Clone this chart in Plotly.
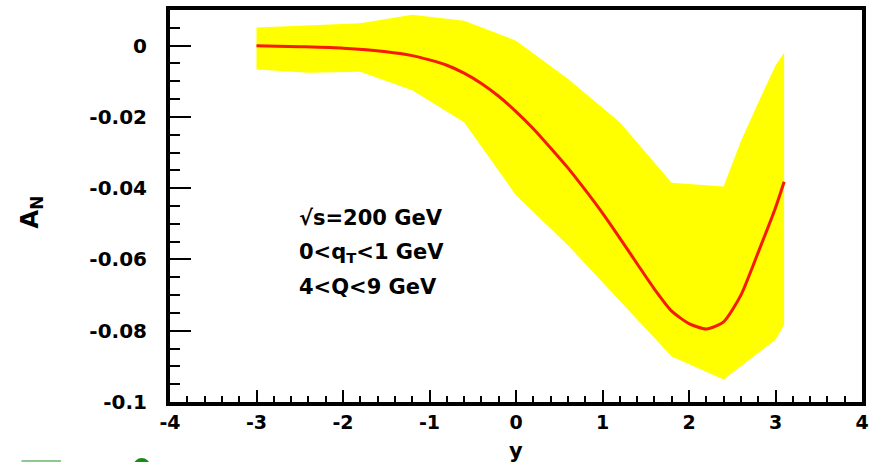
import plotly.graph_objects as go

# ---- data ----
curve_x = [-3.0, -2.5, -2.0, -1.5, -1.2, -1.0, -0.8, -0.6, -0.4, -0.2, 0.0, 0.2, 0.4, 0.6,
           0.8, 1.0, 1.2, 1.4, 1.6, 1.8, 2.0, 2.2, 2.4, 2.6, 2.8, 3.0, 3.1]
curve_y = [0.0, -0.0003, -0.0007, -0.0017, -0.0028, -0.0040, -0.0055, -0.0077, -0.0106,
           -0.0142, -0.0185, -0.0233, -0.0287, -0.0343, -0.0405, -0.0470, -0.0540, -0.0612,
           -0.0683, -0.0745, -0.0780, -0.0795, -0.0775, -0.0700, -0.0580, -0.0455, -0.0382]

band_upper_x = [-3.0, -2.4, -1.8, -1.2, -0.6, 0.0, 0.6, 1.2, 1.8, 2.4, 2.6, 2.8, 3.0, 3.1]
band_upper_y = [0.0051, 0.0057, 0.0063, 0.0087, 0.0070, 0.0014, -0.0093, -0.0215, -0.0385,
                -0.0395, -0.0268, -0.0160, -0.0056, -0.0020]
band_lower_x = [-3.0, -2.4, -1.8, -1.2, -0.6, 0.0, 0.6, 1.2, 1.8, 2.4, 3.0, 3.1]
band_lower_y = [-0.0067, -0.0076, -0.0073, -0.0125, -0.0215, -0.0420, -0.0560, -0.0716,
                -0.0872, -0.0937, -0.0825, -0.0783]

x_tickvals = [-4, -3, -2, -1, 0, 1, 2, 3, 4]
x_ticktext = ["-4", "-3", "-2", "-1", "0", "1", "2", "3", "4"]
y_tickvals = [-0.1, -0.08, -0.06, -0.04, -0.02, 0.0]
y_ticktext = ["-0.1", "-0.08", "-0.06", "-0.04", "-0.02", "0"]

labels = ["\u221as=200 GeV", "0&lt;q<sub>T</sub>&lt;1 GeV", "4&lt;Q&lt;9 GeV"]
labels_y = [-0.0484, -0.0582, -0.0677]
labels_x = -2.53

FONT = "DejaVu Sans"
L, R, T, B = 170, 0, 10, 60
W, H = 869, 462
PW, PH = W - L - R, H - T - B


def px(xp):
    return (xp - L) / PW


def py(yp):
    return (H - B - yp) / PH


fig = go.Figure()
fig.add_trace(go.Scatter(
    x=band_upper_x + band_lower_x[::-1],
    y=band_upper_y + band_lower_y[::-1],
    fill="toself", fillcolor="#ffff00", mode="lines",
    line=dict(width=0, color="#ffff00"), hoverinfo="skip", showlegend=False))
fig.add_trace(go.Scatter(
    x=curve_x, y=curve_y, mode="lines",
    line=dict(color="#f51a00", width=3, shape="spline", smoothing=0.6),
    showlegend=False))

for t, yy in zip(labels, labels_y):
    fig.add_annotation(x=labels_x, y=yy, xref="x", yref="y", text=t, showarrow=False,
                       xanchor="left", yanchor="middle",
                       font=dict(family=FONT, size=21, color="black", weight="bold"))

# axis titles
fig.add_annotation(x=px(30), y=py(212), xref="paper", yref="paper",
                   text="A<sub>N</sub>", textangle=-90, showarrow=False,
                   xanchor="center", yanchor="middle",
                   font=dict(family=FONT, size=24, color="black", weight="bold"))
fig.add_annotation(x=px(520), y=py(451), xref="paper", yref="paper",
                   text="y", showarrow=False, xanchor="center", yanchor="middle",
                   font=dict(family=FONT, size=21, color="black", weight="bold"))

# small artifacts at the bottom-left edge of the reference
fig.add_shape(type="line", xref="paper", yref="paper",
              x0=px(20), x1=px(60), y0=py(461), y1=py(461),
              line=dict(color="#8fc98f", width=2))
fig.add_shape(type="circle", xref="paper", yref="paper",
              x0=px(133), x1=px(150), y0=py(475), y1=py(458),
              fillcolor="#1a8a1a", line=dict(width=0))

fig.update_xaxes(range=[-4, 4], tickvals=x_tickvals, ticktext=x_ticktext,
                 ticks="inside", ticklen=12, tickwidth=1.5, tickcolor="black",
                 showline=True, linewidth=4, linecolor="black", mirror=True,
                 showgrid=False, zeroline=False, ticklabelstandoff=0,
                 ticklabeloverflow="allow",
                 tickfont=dict(family=FONT, size=19, color="black", weight="bold"),
                 minor=dict(ticks="inside", dtick=0.2, tick0=0, ticklen=6,
                            tickwidth=1.5, tickcolor="black", showgrid=False))
fig.update_yaxes(range=[-0.1, 0.01], tickvals=y_tickvals, ticktext=y_ticktext,
                 ticks="inside", ticklen=21, tickwidth=1.5, tickcolor="black",
                 showline=True, linewidth=4, linecolor="black", mirror=True,
                 showgrid=False, zeroline=False, ticklabelstandoff=15,
                 ticklabeloverflow="allow",
                 tickfont=dict(family=FONT, size=20, color="black", weight="bold"),
                 minor=dict(ticks="inside", dtick=0.005, tick0=0, ticklen=10,
                            tickwidth=1.5, tickcolor="black", showgrid=False))

fig.update_layout(width=W, height=H, margin=dict(l=L, r=R, t=T, b=B),
                  paper_bgcolor="white", plot_bgcolor="white")

fig.write_html("out.html", config={"displayModeBar": False},
               post_script="document.body.style.margin='0';document.body.style.overflow='hidden';")
